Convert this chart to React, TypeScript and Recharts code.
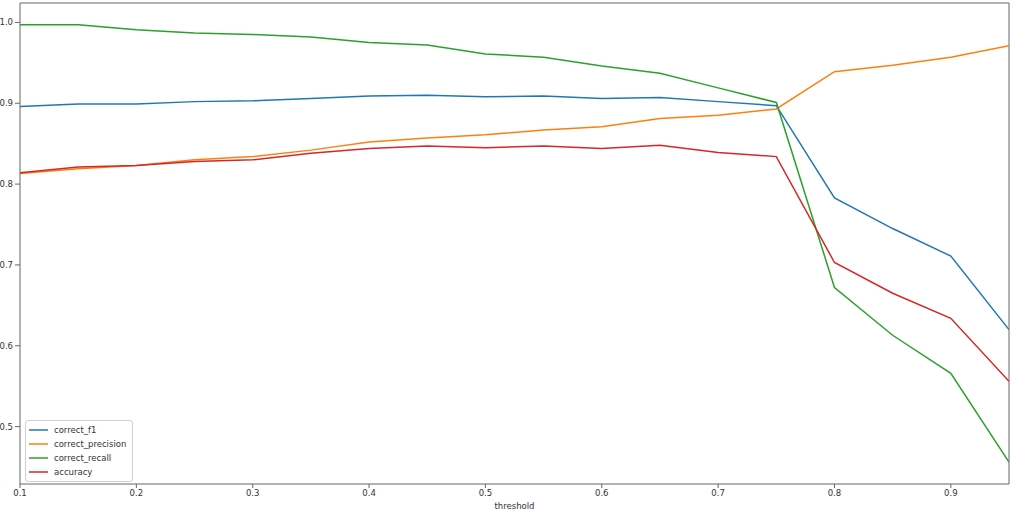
import { LineChart, Line, XAxis, YAxis, Legend, ReferenceLine } from 'recharts'

const thresholds = [0.1, 0.15, 0.2, 0.25, 0.3, 0.35, 0.4, 0.45, 0.5, 0.55, 0.6, 0.65, 0.7, 0.75, 0.8, 0.85, 0.9, 0.95]
const correctF1 = [0.896, 0.899, 0.899, 0.902, 0.903, 0.906, 0.909, 0.91, 0.908, 0.909, 0.906, 0.907, 0.902, 0.897, 0.783, 0.745, 0.711, 0.62]
const correctPrecision = [0.813, 0.819, 0.823, 0.83, 0.834, 0.842, 0.852, 0.857, 0.861, 0.867, 0.871, 0.881, 0.885, 0.893, 0.939, 0.947, 0.957, 0.971]
const correctRecall = [0.997, 0.997, 0.991, 0.987, 0.985, 0.982, 0.975, 0.972, 0.961, 0.957, 0.946, 0.937, 0.919, 0.901, 0.672, 0.613, 0.566, 0.456]
const accuracy = [0.814, 0.821, 0.823, 0.828, 0.83, 0.838, 0.844, 0.847, 0.845, 0.847, 0.844, 0.848, 0.839, 0.834, 0.703, 0.665, 0.634, 0.556]

const xTicks = [0.1, 0.2, 0.3, 0.4, 0.5, 0.6, 0.7, 0.8, 0.9]
const yTicks = [0.5, 0.6, 0.7, 0.8, 0.9, 1.0]

const series = [
  { key: 'correct_f1', color: '#1f77b4' },
  { key: 'correct_precision', color: '#ff7f0e' },
  { key: 'correct_recall', color: '#2ca02c' },
  { key: 'accuracy', color: '#d62728' }
]

const data = thresholds.map((t, i) => ({
  threshold: t,
  correct_f1: correctF1[i],
  correct_precision: correctPrecision[i],
  correct_recall: correctRecall[i],
  accuracy: accuracy[i]
}))

const FONT = '"DejaVu Sans", sans-serif'
const AXIS = '#666'
const X_DOMAIN = [0.1, 0.95]
const Y_DOMAIN = [0.429, 1.024]

const tickStyle = { fill: '#333', fontSize: 8.5, fontFamily: FONT }

function LegendBox() {
  return (
    <div
      style={{
        border: '1px solid #d0d0d0',
        borderRadius: 3,
        background: 'rgba(255,255,255,0.8)',
        padding: '2px 4px 2px 2px',
        fontFamily: FONT,
        fontSize: 8.5,
        color: '#333',
        boxSizing: 'border-box',
        width: 108
      }}
    >
      {series.map(s => (
        <div key={s.key} style={{ display: 'flex', alignItems: 'center', height: 13.9 }}>
          <svg width={26} height={6} style={{ flex: 'none' }}>
            <line x1={1} y1={3} x2={20} y2={3} stroke={s.color} strokeWidth={1.5} />
          </svg>
          <span>{s.key}</span>
        </div>
      ))}
    </div>
  )
}

export default function App() {
  return (
    <div style={{ position: 'absolute', left: 0, top: 0, background: '#fff' }}>
      <LineChart width={1011} height={510} data={data} margin={{ top: 3, right: 2, left: 0, bottom: 0 }}>
        <XAxis
          dataKey="threshold"
          type="number"
          domain={X_DOMAIN}
          ticks={xTicks}
          allowDataOverflow
          height={26}
          stroke={AXIS}
          tickSize={4}
          tickMargin={2}
          tick={tickStyle}
          tickFormatter={(v: number) => v.toFixed(1)}
          label={{ value: 'threshold', position: 'insideBottom', offset: 1, fill: '#333', fontSize: 8.5, fontFamily: FONT }}
        />
        <YAxis
          type="number"
          domain={Y_DOMAIN}
          ticks={yTicks}
          allowDataOverflow
          width={20}
          stroke={AXIS}
          tickSize={5}
          tickMargin={2}
          tick={tickStyle}
          tickFormatter={(v: number) => v.toFixed(1)}
        />
        {/* frame: top and right spines */}
        <ReferenceLine y={Y_DOMAIN[1]} stroke={AXIS} strokeWidth={1} ifOverflow="visible" />
        <ReferenceLine x={X_DOMAIN[1]} stroke={AXIS} strokeWidth={1} ifOverflow="visible" />
        {series.map(s => (
          <Line
            key={s.key}
            type="linear"
            dataKey={s.key}
            stroke={s.color}
            strokeWidth={1.5}
            dot={false}
            activeDot={false}
            isAnimationActive={false}
          />
        ))}
        <Legend
          layout="vertical"
          align="center"
          verticalAlign="middle"
          content={() => <LegendBox />}
          wrapperStyle={{ left: 25, top: 420, width: 108, height: 58 }}
        />
      </LineChart>
    </div>
  )
}
